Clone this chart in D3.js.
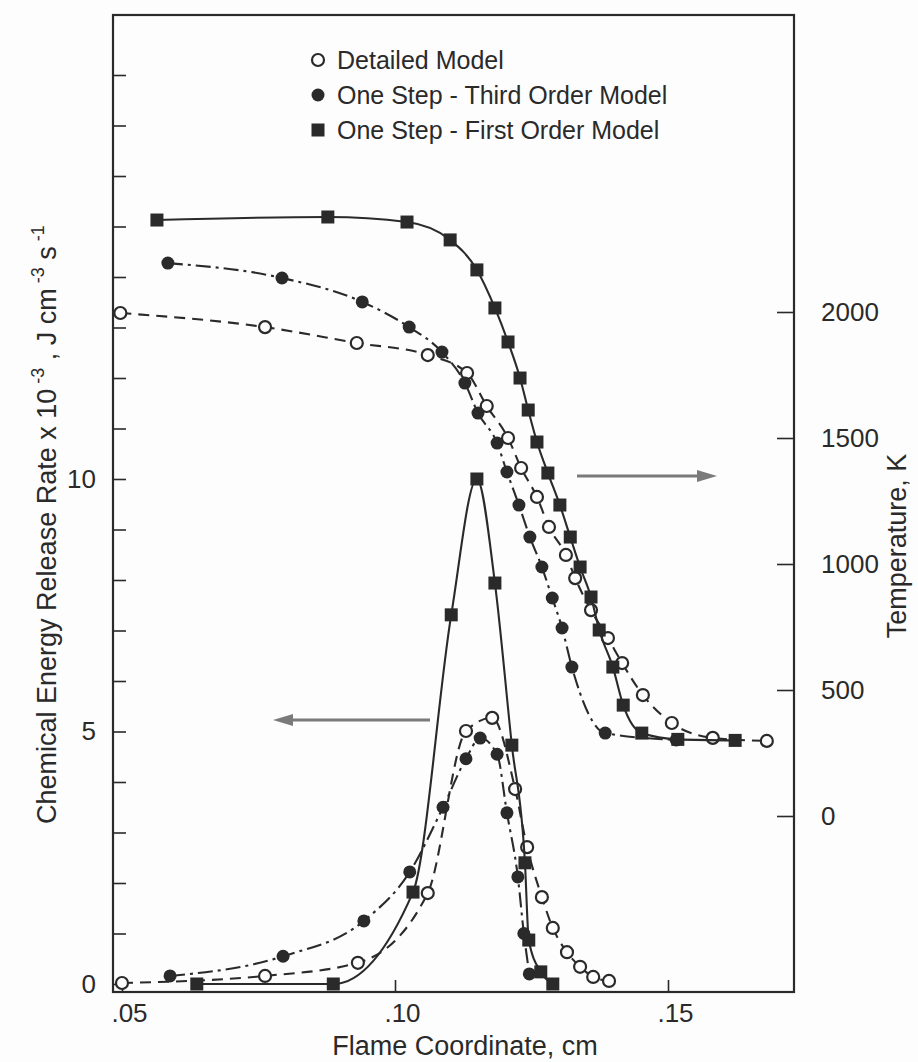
<!DOCTYPE html>
<html>
<head>
<meta charset="utf-8">
<script src="https://cdn.jsdelivr.net/npm/d3@7"></script>
<style>
  html, body { margin: 0; padding: 0; background: #fdfdfd; }
  svg { display: block; }
  text { font-family: "Liberation Sans", Arial, Helvetica, sans-serif; fill: #2a2a2a; }
</style>
</head>
<body>
<svg id="chart" width="918" height="1062"></svg>
<script>
// Flame coordinate (cm) tick values and labels
const xTickValues = [0.05, 0.10, 0.15];
const xTickLabels = [".05", ".10", ".15"];
// Energy release rate ticks (x 10^-3 J cm^-3 s^-1)
const eTickValues = [0, 5, 10];
const eMinorTicks = d3.range(0, 19);
// Temperature ticks (K)
const tTickValues = [0, 500, 1000, 1500, 2000];

// Legend entries
const seriesNames = ["Detailed Model", "One Step - Third Order Model", "One Step - First Order Model"];

// Temperature profiles [x (cm), T (K)]
const tempDetailed = [
  [0.0497, 1996], [0.0762, 1940], [0.0930, 1877], [0.1060, 1829], [0.1132, 1758],
  [0.1168, 1627], [0.1207, 1500], [0.1231, 1381], [0.1260, 1266], [0.1282, 1147],
  [0.1313, 1036], [0.1330, 944], [0.1359, 817], [0.1390, 706], [0.1416, 607],
  [0.1454, 480], [0.1507, 369], [0.1582, 310], [0.1681, 298]
];
const tempThird = [
  [0.0584, 2194], [0.0793, 2135], [0.0940, 2040], [0.1026, 1940], [0.1086, 1841],
  [0.1128, 1718], [0.1152, 1599], [0.1187, 1480], [0.1205, 1365], [0.1227, 1234],
  [0.1247, 1107], [0.1269, 988], [0.1288, 865], [0.1306, 746], [0.1324, 591],
  [0.1385, 329], [0.1515, 302]
];
const tempFirst = [
  [0.0564, 2365], [0.0877, 2377], [0.1022, 2357], [0.1101, 2286], [0.1150, 2167],
  [0.1183, 2016], [0.1207, 1881], [0.1229, 1738], [0.1244, 1611], [0.1260, 1484],
  [0.1280, 1361], [0.1302, 1234], [0.1321, 1107], [0.1339, 988], [0.1359, 869],
  [0.1374, 738], [0.1399, 591], [0.1418, 440], [0.1452, 329], [0.1518, 304],
  [0.1623, 300]
];

// Chemical energy release rate profiles [x (cm), rate x 10^-3]
const rateDetailed = [
  [0.0500, 0.02], [0.0762, 0.16], [0.0932, 0.42], [0.1060, 1.80], [0.1130, 5.01],
  [0.1178, 5.27], [0.1220, 3.86], [0.1242, 2.71], [0.1269, 1.72], [0.1289, 1.11],
  [0.1315, 0.63], [0.1339, 0.34], [0.1363, 0.14], [0.1392, 0.06]
];
const rateThird = [
  [0.0588, 0.16], [0.0795, 0.55], [0.0943, 1.25], [0.1027, 2.22], [0.1088, 3.50],
  [0.1130, 4.46], [0.1156, 4.87], [0.1187, 4.55], [0.1205, 3.39], [0.1225, 2.12],
  [0.1236, 1.00], [0.1246, 0.20]
];
const rateFirst = [
  [0.0637, 0.0], [0.0887, 0.0], [0.1033, 1.82], [0.1103, 7.31], [0.1150, 10.0],
  [0.1183, 7.94], [0.1214, 4.73], [0.1238, 2.40], [0.1245, 0.87], [0.1267, 0.24],
  [0.1289, 0.0]
];

const ink = "#2a2a2a";
const svg = d3.select("#chart");

// Plot frame
const frame = { left: 113, right: 794, top: 15, bottom: 992 };

const x = d3.scaleLinear().domain([0.05, 0.15]).range([122, 668]);
const yE = d3.scaleLinear().domain([0, 10]).range([984, 479]);
const yT = d3.scaleLinear().domain([0, 2000]).range([816, 312]);

svg.append("rect")
  .attr("x", frame.left).attr("y", frame.top)
  .attr("width", frame.right - frame.left).attr("height", frame.bottom - frame.top)
  .attr("fill", "none").attr("stroke", ink).attr("stroke-width", 2.2);

// Bottom axis: inward ticks
const xAxis = d3.axisBottom(x).tickValues(xTickValues)
  .tickFormat((d, i) => xTickLabels[i]).tickSizeInner(-12).tickSizeOuter(0).tickPadding(12);
const gx = svg.append("g").attr("transform", `translate(0,${frame.bottom})`).call(xAxis);
gx.select(".domain").remove();
gx.selectAll("line").attr("stroke", ink).attr("stroke-width", 1.6);
gx.selectAll("text").attr("font-size", 26).attr("dx", 7).attr("fill", ink);

// Left axis: energy release rate
const eAxisMinor = d3.axisRight(yE).tickValues(eMinorTicks).tickFormat("").tickSizeInner(13).tickSizeOuter(0);
const ge = svg.append("g").attr("transform", `translate(${frame.left},0)`).call(eAxisMinor);
ge.select(".domain").remove();
ge.selectAll("line").attr("stroke", ink).attr("stroke-width", 1.6);
const eAxisLabels = d3.axisLeft(yE).tickValues(eTickValues).tickFormat(d3.format("d")).tickSize(0).tickPadding(17);
const gel = svg.append("g").attr("transform", `translate(${frame.left},0)`).call(eAxisLabels);
gel.select(".domain").remove();
gel.selectAll("text").attr("font-size", 26).attr("fill", ink);

// Right axis: temperature
const tAxis = d3.axisRight(yT).tickValues(tTickValues).tickFormat(d3.format("d"))
  .tickSizeInner(-17).tickSizeOuter(0).tickPadding(27);
const gt = svg.append("g").attr("transform", `translate(${frame.right},0)`).call(tAxis);
gt.select(".domain").remove();
gt.selectAll("line").attr("stroke", ink).attr("stroke-width", 1.6);
gt.selectAll("text").attr("font-size", 26).attr("fill", ink);

// Axis titles
svg.append("text").attr("x", 465).attr("y", 1055).attr("text-anchor", "middle")
  .attr("font-size", 27).text("Flame Coordinate, cm");

const leftTitle = svg.append("text")
  .attr("transform", "translate(56,824) rotate(-90)")
  .attr("text-anchor", "start").attr("font-size", 27);
leftTitle.append("tspan").text("Chemical Energy Release Rate x 10");
leftTitle.append("tspan").attr("dy", -12).attr("font-size", 18).text(" -3");
leftTitle.append("tspan").attr("dy", 12).text(" , J cm");
leftTitle.append("tspan").attr("dy", -12).attr("font-size", 18).text(" -3");
leftTitle.append("tspan").attr("dy", 12).text(" s");
leftTitle.append("tspan").attr("dy", -12).attr("font-size", 18).text(" -1");

svg.append("text").attr("transform", "translate(906,546) rotate(-90)")
  .attr("text-anchor", "middle").attr("font-size", 27).text("Temperature, K");

// Curves
const line = d3.line().x(d => x(d[0])).curve(d3.curveMonotoneX);
const styles = [
  { dash: "11,7", marker: "open" },
  { dash: "15,5,3,5", marker: "filled" },
  { dash: null, marker: "square" }
];

function drawSeries(data, yScale, style) {
  svg.append("path").datum(data)
    .attr("d", line.y(d => yScale(d[1])))
    .attr("fill", "none").attr("stroke", ink).attr("stroke-width", 2.1)
    .attr("stroke-dasharray", style.dash);
  drawMarkers(svg.append("g"), data.map(d => [x(d[0]), yScale(d[1])]), style.marker);
}

function drawMarkers(g, pts, kind) {
  if (kind === "square") {
    g.selectAll("rect").data(pts).join("rect")
      .attr("x", d => d[0] - 6.5).attr("y", d => d[1] - 6.5)
      .attr("width", 13).attr("height", 13).attr("fill", ink);
  } else {
    g.selectAll("circle").data(pts).join("circle")
      .attr("cx", d => d[0]).attr("cy", d => d[1])
      .attr("r", kind === "open" ? 6 : 6.5)
      .attr("fill", kind === "open" ? "#fdfdfd" : ink)
      .attr("stroke", ink).attr("stroke-width", kind === "open" ? 2.2 : 0);
  }
}

drawSeries(tempDetailed, yT, styles[0]);
drawSeries(tempThird, yT, styles[1]);
drawSeries(tempFirst, yT, styles[2]);
drawSeries(rateDetailed, yE, styles[0]);
drawSeries(rateThird, yE, styles[1]);
drawSeries(rateFirst, yE, styles[2]);

// Arrows pointing to the relevant axis
const arrowGray = "#7a7a7a";
function arrow(x1, x2, yy) {
  const dir = Math.sign(x2 - x1);
  svg.append("line").attr("x1", x1).attr("x2", x2 - dir * 14).attr("y1", yy).attr("y2", yy)
    .attr("stroke", arrowGray).attr("stroke-width", 3);
  svg.append("path")
    .attr("d", `M${x2},${yy} L${x2 - dir * 20},${yy - 6} L${x2 - dir * 20},${yy + 6} Z`)
    .attr("fill", arrowGray);
}
arrow(577, 717, 476);
arrow(430, 273, 720);

// Legend
const legend = svg.append("g");
seriesNames.forEach((name, i) => {
  const ly = 60 + i * 35;
  drawMarkers(legend.append("g"), [[318, ly]], styles[i].marker);
  legend.append("text").attr("x", 337).attr("y", ly + 9).attr("font-size", 25).text(name);
});
</script>
</body>
</html>
